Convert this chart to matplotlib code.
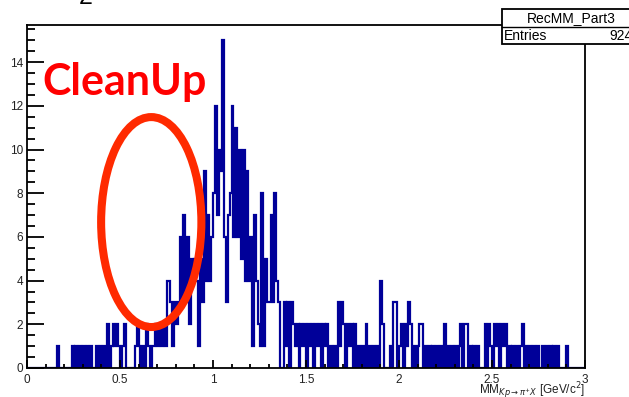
import numpy as np
import matplotlib
matplotlib.use("Agg")
import matplotlib.pyplot as plt
from matplotlib.patches import Ellipse, Rectangle
from matplotlib.lines import Line2D
from matplotlib.ticker import MultipleLocator

plt.rcParams['font.family'] = ['Liberation Sans', 'DejaVu Sans']

# missing mass histogram, 300 bins of 10 MeV from 0 to 3 GeV
x_min, x_max, n_bins = 0.0, 3.0, 300
counts = [
    0, 0, 0, 0, 0, 0, 0, 0, 0, 0,   # 0.0
    0, 0, 0, 0, 0, 0, 1, 0, 0, 0,   # 0.1
    0, 0, 0, 0, 1, 0, 1, 0, 1, 0,   # 0.2
    1, 0, 1, 0, 1, 0, 0, 1, 0, 1,   # 0.3
    0, 1, 0, 2, 0, 1, 2, 1, 2, 1,   # 0.4
    0, 1, 2, 0, 0, 0, 0, 0, 1, 2,   # 0.5
    1, 0, 1, 0, 2, 1, 0, 1, 1, 2,   # 0.6
    1, 2, 1, 2, 1, 4, 4, 3, 1, 3,   # 0.7
    2, 3, 6, 3, 7, 3, 6, 2, 5, 4,   # 0.8
    5, 4, 1, 5, 3, 9, 4, 7, 4, 6,   # 0.9
    8, 12, 7, 10, 9, 15, 6, 3, 7, 8,  # 1.0
    12, 6, 11, 6, 10, 5, 10, 4, 9, 4,  # 1.1
    6, 1, 7, 4, 2, 1, 8, 1, 5, 3,   # 1.2
    3, 7, 3, 8, 4, 3, 0, 0, 3, 1,   # 1.3
    3, 0, 3, 2, 1, 2, 0, 2, 1, 2,   # 1.4
    0, 2, 1, 2, 0, 2, 1, 2, 0, 2,   # 1.5
    1, 2, 0, 1, 0, 1, 0, 3, 1, 3,   # 1.6
    2, 0, 2, 1, 2, 0, 2, 0, 1, 0,   # 1.7
    1, 0, 2, 0, 1, 0, 1, 0, 1, 0,   # 1.8
    4, 2, 0, 0, 0, 1, 0, 3, 3, 0,   # 1.9
    1, 2, 0, 2, 1, 3, 2, 0, 1, 0,   # 2.0
    1, 2, 2, 0, 1, 0, 1, 0, 1, 0,   # 2.1
    1, 0, 1, 0, 2, 0, 1, 0, 1, 0,   # 2.2
    1, 0, 1, 2, 0, 2, 2, 0, 1, 0,   # 2.3
    1, 0, 1, 0, 0, 0, 2, 0, 2, 1,   # 2.4
    0, 2, 1, 2, 0, 2, 1, 2, 0, 1,   # 2.5
    0, 1, 0, 1, 0, 1, 2, 0, 1, 0,   # 2.6
    1, 0, 1, 0, 1, 0, 0, 1, 0, 1,   # 2.7
    0, 1, 0, 1, 0, 1, 0, 0, 0, 0,   # 2.8
    1, 0, 0, 0, 0, 0, 0, 0, 0, 0,   # 2.9
]
x_ticks = [0, 0.5, 1, 1.5, 2, 2.5, 3]
x_tick_labels = ["0", "0.5", "1", "1.5", "2", "2.5", "3"]
y_ticks = [0, 2, 4, 6, 8, 10, 12, 14]
hist_name = "RecMM_Part3"
n_entries = 924

W, H = 629, 397
fig = plt.figure(figsize=(W / 100, H / 100), dpi=100)
fig.patch.set_facecolor("white")

# frame in pixel units
left, right, top, bottom = 27, 585, 25, 368
ax = fig.add_axes([left / W, 1 - bottom / H, (right - left) / W, (bottom - top) / H])

edges = np.linspace(x_min, x_max, n_bins + 1)
ax.stairs(counts, edges, baseline=0, color="#000099", lw=1.6)

ax.set_xlim(x_min, x_max)
ax.set_ylim(0, 15.7)
for s in ax.spines.values():
    s.set_linewidth(1.3)

ax.set_xticks(x_ticks)
ax.set_xticklabels(x_tick_labels)
ax.set_yticks(y_ticks)
ax.xaxis.set_minor_locator(MultipleLocator(0.1))
ax.yaxis.set_minor_locator(MultipleLocator(0.5))
ax.tick_params(axis="both", which="both", direction="in", top=False, right=False,
               width=1.3, labelsize=8.5, labelcolor="#222222")
ax.tick_params(axis="y", which="major", length=12, pad=3)
ax.tick_params(axis="y", which="minor", length=6)
ax.tick_params(axis="x", which="major", length=6, pad=4)
ax.tick_params(axis="x", which="minor", length=3)

ax.text(1.0, -0.035, r"MM$_{Kp \rightarrow \pi^{+} X}$ [GeV/c$^{2}$]",
        transform=ax.transAxes, ha="right", va="top", fontsize=8.5, color="#222222")

# the cut region
ax.add_patch(Ellipse((0.668, 6.68), 0.539, 9.61, fill=False, edgecolor="#ff2a00",
                     lw=5.8, clip_on=False, zorder=5))
ax.text(0.08, 12.5, "CleanUp", color="#ff0000", fontsize=31, fontweight="bold",
        family="Lato", ha="left", va="baseline", zorder=6)

# stats box
bx0, by0, by1, bdiv = 502, 9, 44, 27
fig.add_artist(Rectangle((bx0 / W, 1 - by1 / H), (W + 20 - bx0) / W, (by1 - by0) / H,
                         transform=fig.transFigure, facecolor="white",
                         edgecolor="black", lw=1.3, zorder=10))
fig.add_artist(Line2D([bx0 / W, 1.0], [1 - bdiv / H] * 2, transform=fig.transFigure,
                      color="black", lw=1.0, zorder=11))
fig.text(571 / W, 1 - 18 / H, hist_name, ha="center", va="center", fontsize=10, zorder=12)
fig.text(504 / W, 1 - 36 / H, "Entries", ha="left", va="center", fontsize=10, zorder=12)
fig.text(609 / W, 1 - 36 / H, str(n_entries), ha="left", va="center", fontsize=10, zorder=12)

# cut-off glyph at the top edge
fig.text(86 / W, 1 - 4 / H, "2", ha="center", va="baseline", fontsize=18)

fig.savefig("out.png", dpi=100)
